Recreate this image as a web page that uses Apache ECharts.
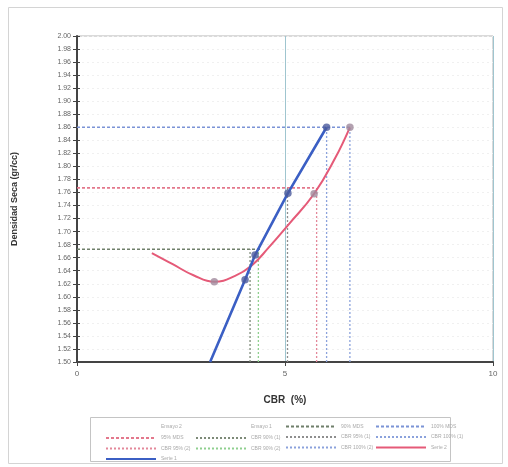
<!DOCTYPE html>
<html>
<head>
<meta charset="utf-8">
<script src="https://cdn.jsdelivr.net/npm/echarts@6/dist/echarts.min.js"></script>
<style>
  html, body { margin: 0; padding: 0; background: #fff; }
  #chart { width: 508px; height: 467px; }
</style>
</head>
<body>
<div id="chart"></div>
<script>
// Axis settings
const xMin = 0, xMax = 10, xStep = 5;
const yMin = 1.50, yMax = 2.00, yStep = 0.02;

// Blue line: dry density vs CBR (specimen set 1)
const blueX = [3.20, 4.04, 4.28, 5.07, 6.00];
const blueY = [1.500, 1.626, 1.664, 1.759, 1.860];
const blueMarkX = [4.04, 4.28, 5.07, 6.00];
const blueMarkY = [1.626, 1.664, 1.759, 1.860];

// Red curve: dry density vs CBR (specimen set 2)
const redX = [1.80, 2.30, 2.80, 3.30, 3.80, 4.20, 4.60, 5.10, 5.70, 6.20, 6.56];
const redY = [1.667, 1.650, 1.633, 1.623, 1.632, 1.648, 1.675, 1.712, 1.758, 1.812, 1.860];
const redMarkX = [3.30, 5.70, 6.56];
const redMarkY = [1.623, 1.758, 1.860];

// Density levels (100 %, 95 %, 90 % of max) and where their dashed guides end
const levelY = [1.860, 1.767, 1.673];
const levelEnd = [6.56, 5.70, 4.40];
const levelNames = ['100% MDS', '95% MDS', '90% MDS'];
const levelColors = ['#7b93d6', '#e3788c', '#6f7f6a'];

// Vertical guides dropped to the CBR axis
const dropX = [4.16, 4.36, 5.06, 5.76, 6.00, 6.56];
const dropTop = [1.673, 1.673, 1.767, 1.767, 1.860, 1.860];
const dropNames = ['CBR 90% (1)', 'CBR 90% (2)', 'CBR 95% (1)', 'CBR 95% (2)', 'CBR 100% (1)', 'CBR 100% (2)'];
const dropColors = ['#7d8a78', '#8fd08f', '#8e8e8e', '#e3889a', '#8ba2dc', '#8ba2dc'];

const zip = (xs, ys) => xs.map((x, i) => [x, ys[i]]);

const series = [];

levelY.forEach((y, i) => {
  series.push({
    name: levelNames[i], type: 'line', symbol: 'none', z: 3,
    data: [[xMin, y], [levelEnd[i], y]],
    lineStyle: { color: levelColors[i], width: 1.6, type: [3, 2] },
    itemStyle: { color: levelColors[i] }
  });
});

dropX.forEach((x, i) => {
  series.push({
    name: dropNames[i], type: 'line', symbol: 'none', z: 3,
    data: [[x, yMin], [x, dropTop[i]]],
    lineStyle: { color: dropColors[i], width: 1.3, type: [2, 2] },
    itemStyle: { color: dropColors[i] }
  });
});

series.push({
  name: 'Serie 2', type: 'line', symbol: 'none', smooth: 0.45, z: 4,
  data: zip(redX, redY),
  lineStyle: { color: '#e55a78', width: 2 },
  itemStyle: { color: '#e55a78' }
});
series.push({
  name: 'Serie 1', type: 'line', symbol: 'none', z: 5,
  data: zip(blueX, blueY),
  lineStyle: { color: '#3b5fc4', width: 2.6 },
  itemStyle: { color: '#3b5fc4' }
});
series.push({
  name: 'Ensayo 2', type: 'scatter', symbol: 'circle', symbolSize: 7.5, z: 6,
  data: zip(redMarkX, redMarkY),
  itemStyle: { color: '#a08a9c' }
});
series.push({
  name: 'Ensayo 1', type: 'scatter', symbol: 'circle', symbolSize: 7.5, z: 6,
  data: zip(blueMarkX, blueMarkY),
  itemStyle: { color: '#4b5a9c' }
});

const legendBase = {
  orient: 'vertical', top: 419, itemWidth: 50, itemHeight: 6, itemGap: 5.5,
  textStyle: { fontSize: 5, color: '#aaa', fontFamily: 'Liberation Sans' },
  itemStyle: { opacity: 0 },
  selectedMode: false
};

const chart = echarts.init(document.getElementById('chart'), null, { renderer: 'canvas' });
chart.setOption({
  animation: false,
  backgroundColor: '#fff',
  textStyle: { fontFamily: 'Liberation Sans' },
  grid: { left: 77, top: 36, right: 15, bottom: 105, show: true, borderColor: '#b5b5b5', borderWidth: 1 },
  xAxis: [{
    type: 'value', min: xMin, max: xMax, interval: xStep,
    name: 'CBR  (%)', nameLocation: 'middle', nameGap: 33,
    nameTextStyle: { fontSize: 10, fontWeight: 'bold', color: '#333' },
    axisLine: { lineStyle: { color: '#444', width: 2 } },
    axisTick: { show: true, length: 4, lineStyle: { color: '#444' } },
    axisLabel: { fontSize: 8, color: '#666', margin: 8 },
    splitLine: { show: true, lineStyle: { color: '#9fc5cf', width: 1 } }
  }],
  yAxis: [{
    type: 'value', min: yMin, max: yMax, interval: yStep,
    name: 'Densidad Seca (gr/cc)', nameLocation: 'middle', nameGap: 58,
    nameTextStyle: { fontSize: 9, fontWeight: 'bold', color: '#333' },
    axisLine: { show: true, lineStyle: { color: '#444', width: 2 } },
    axisTick: { show: true, length: 4, lineStyle: { color: '#444' } },
    axisLabel: { fontSize: 7, color: '#666', margin: 6, formatter: v => v.toFixed(2) },
    splitLine: { show: true, lineStyle: { color: '#f0f0f0', type: [2, 3] } }
  }, {
    type: 'value', min: yMin, max: yMax, interval: yStep, position: 'left',
    axisLine: { show: false },
    axisTick: { show: true, inside: true, length: 3, lineStyle: { color: '#444' } },
    axisLabel: { show: false }, splitLine: { show: false }
  }],
  legend: [
    Object.assign({ left: 100, data: ['Ensayo 2', '95% MDS', 'CBR 95% (2)', 'Serie 1'] }, legendBase),
    Object.assign({ left: 190, data: ['Ensayo 1', 'CBR 90% (1)', 'CBR 90% (2)'] }, legendBase),
    Object.assign({ left: 280, data: ['90% MDS', 'CBR 95% (1)', 'CBR 100% (2)'] }, legendBase),
    Object.assign({ left: 370, data: ['100% MDS', 'CBR 100% (1)', 'Serie 2'] }, legendBase)
  ],
  graphic: [
    { type: 'rect', shape: { x: 8.5, y: 7.5, width: 494, height: 456 }, style: { fill: 'none', stroke: '#d4d4d4', lineWidth: 1 }, silent: true, z: -1 },
    { type: 'rect', shape: { x: 90.5, y: 417.5, width: 360, height: 44 }, style: { fill: 'none', stroke: '#c4c4c4', lineWidth: 1 }, silent: true, z: -1 }
  ],
  series: series
});
</script>
</body>
</html>
